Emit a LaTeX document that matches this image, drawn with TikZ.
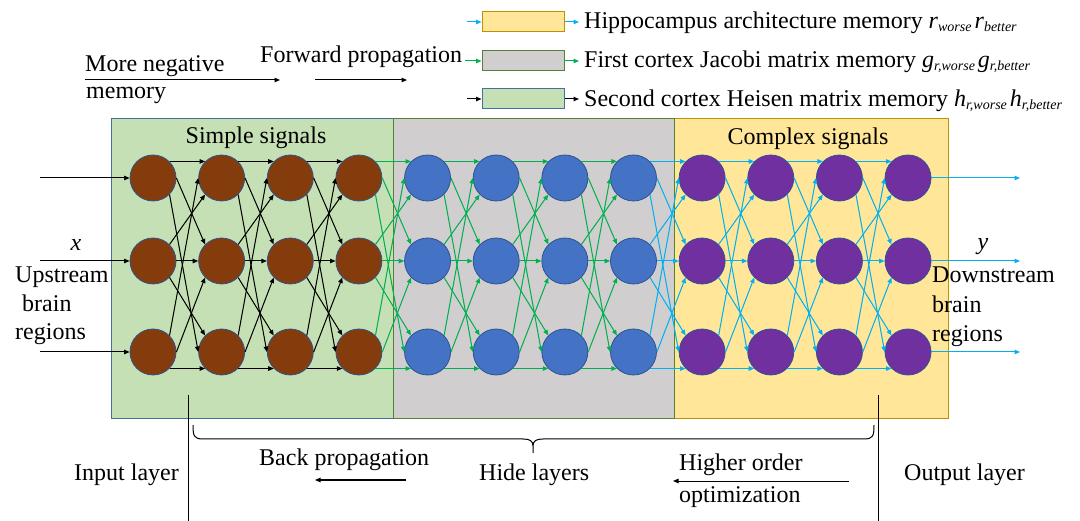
\documentclass[tikz,border=0pt]{standalone}
\usepackage{fontspec}
\setmainfont{Liberation Serif}
\usetikzlibrary{arrows.meta}
\definecolor{gfill}{HTML}{C5E0B4}
\definecolor{gyfill}{HTML}{D0CECE}
\definecolor{yfill}{HTML}{FFE699}
\definecolor{bluebd}{HTML}{41719C}
\definecolor{greenbd}{HTML}{548235}
\definecolor{goldbd}{HTML}{BF9000}
\definecolor{brownn}{HTML}{843C0C}
\definecolor{bluen}{HTML}{4472C4}
\definecolor{purplen}{HTML}{7030A0}
\definecolor{nodebd}{HTML}{2F528F}
\definecolor{lgreen}{HTML}{00B050}
\definecolor{lcyan}{HTML}{00B0F0}
\newcommand\lsub[1]{\raisebox{-2.5pt}{\fontsize{14}{14}\selectfont\itshape #1}}
\tikzset{
  txt/.style={font=\fontsize{24}{29}\selectfont, inner sep=0pt, anchor=base west},
  neuron/.style={circle, draw=nodebd, line width=0.8pt, minimum size=46pt, inner sep=0pt},
  conn/.style={line width=1pt, -{Triangle[length=5.5pt,width=4.5pt]}},
  legbox/.style={draw, line width=1pt, minimum width=82pt, minimum height=20pt, inner sep=0pt},
  plain/.style={line width=1pt}
}
\begin{document}
\begin{tikzpicture}[x=1pt,y=-1pt]
\useasboundingbox (0,0) rectangle (1080,521);
% region boxes
\node[draw=bluebd, fill=gfill, line width=1pt, minimum width=282pt, minimum height=300pt, inner sep=0pt] (boxg) at (252,269) {};
\node[draw=goldbd, fill=yfill, line width=1pt, minimum width=274pt, minimum height=300pt, inner sep=0pt] (boxy) at (811,269) {};
\node[draw=greenbd, fill=gyfill, line width=1pt, minimum width=281pt, minimum height=300pt, inner sep=0pt] (boxgy) at (533.5,269) {};
% neurons
\foreach \c in {1,...,12}{
  \pgfmathsetmacro\xx{153+68.64*(\c-1)}
  \ifnum\c<5 \def\nc{brownn}\else\ifnum\c<9 \def\nc{bluen}\else\def\nc{purplen}\fi\fi
  \node[neuron, fill=\nc] (n-\c-1) at (\xx,178) {};
  \node[neuron, fill=\nc] (n-\c-2) at (\xx,261) {};
  \node[neuron, fill=\nc] (n-\c-3) at (\xx,352) {};
}
% connections
\foreach \c/\col in {1/black,2/black,3/black,4/lgreen,5/lgreen,6/lgreen,7/lgreen,8/lcyan,9/lcyan,10/lcyan,11/lcyan}{
  \pgfmathtruncatemacro\d{\c+1}
  \foreach \s/\t/\a/\b in {1/1/45/135, 1/2/0/135, 1/3/-45/180, 2/1/45/-135, 2/2/0/180, 2/3/-45/135, 3/1/45/180, 3/2/0/-135, 3/3/-45/-135}{
    \draw[conn, draw=\col, fill=\col] (n-\c-\s.\a) -- (n-\d-\t.\b);
  }
}
% inputs and outputs
\coordinate (in1) at (40,178);
\coordinate (in2) at (40,261);
\coordinate (in3) at (40,352);
\coordinate (out1) at (1020,178);
\coordinate (out2) at (1020,261);
\coordinate (out3) at (1020,352);
\foreach \r in {1,2,3}{
  \draw[conn] (in\r) -- (n-1-\r.west);
  \draw[conn, draw=lcyan, fill=lcyan] (n-12-\r.east) -- (out\r);
}
% region titles
\node[txt, anchor=base] (tsimple) at (256,144) {Simple signals};
\node[txt, anchor=base] (tcomplex) at (808,145) {Complex signals};
% left/right labels
\node[txt, anchor=base] (tx) at (76,251) {\itshape x};
\node[txt] (tup) at (15,283) {Upstream};
\node[txt] (tbrainl) at (22,312) {brain};
\node[txt] (tregl) at (15,340) {regions};
\node[txt, anchor=base] (ty) at (983,250) {\itshape y};
\node[txt] (tdown) at (932,283) {Downstream};
\node[txt] (tbrainr) at (932,313) {brain};
\node[txt] (tregr) at (932,342) {regions};
% top left texts
\node[txt] (tmore) at (85,72) {More negative};
\node[txt] (tmem) at (86,99) {memory};
\node[txt] (tfwd) at (260,63) {Forward propagation};
\coordinate (a1s) at (85,80);
\coordinate (a1e) at (280,80);
\coordinate (a2s) at (315,80);
\coordinate (a2e) at (407,80);
\draw[conn] (a1s) -- (a1e);
\draw[conn] (a2s) -- (a2e);
% legend
\node[legbox, draw=goldbd, fill=yfill] (lg1) at (523,22) {};
\node[legbox, draw=greenbd, fill=gyfill] (lg2) at (523,61) {};
\node[legbox, draw=bluebd, fill=gfill] (lg3) at (523,99) {};
\coordinate (lg1a) at (467,22);
\coordinate (lg1b) at (579,22);
\coordinate (lg2a) at (465,61);
\coordinate (lg2b) at (579,61);
\coordinate (lg3a) at (467,99);
\coordinate (lg3b) at (579,99);
\draw[conn, draw=lcyan, fill=lcyan] (lg1a) -- (lg1.west);
\draw[conn, draw=lcyan, fill=lcyan] (lg1.east) -- (lg1b);
\draw[conn, draw=lgreen, fill=lgreen] (lg2a) -- (lg2.west);
\draw[conn, draw=lgreen, fill=lgreen] (lg2.east) -- (lg2b);
\draw[conn] (lg3a) -- (lg3.west);
\draw[conn] (lg3.east) -- (lg3b);
\node[txt] (lt1) at (584,29) {Hippocampus architecture memory \textit{r}\lsub{worse}\hspace{3pt}\textit{r}\lsub{better}};
\node[txt] (lt2) at (584,68) {First cortex Jacobi matrix memory \textit{g}\lsub{r,worse}\hspace{3pt}\textit{g}\lsub{r,better}};
\node[txt] (lt3) at (584,107) {Second cortex Heisen matrix memory \textit{h}\lsub{r,worse}\hspace{3pt}\textit{h}\lsub{r,better}};
% bottom
\coordinate (vl1) at (188,395);
\coordinate (vl2) at (188,521);
\coordinate (vr1) at (878,395);
\coordinate (vr2) at (878,521);
\draw[plain] (vl1) -- (vl2);
\draw[plain] (vr1) -- (vr2);
\draw[plain] (193,425) .. controls (193,436) and (194,439) .. (203,439) -- (523,439) .. controls (530,439) and (533,441) .. (533,446) -- (533,453)
  (533,446) .. controls (533,441) and (536,439) .. (543,439) -- (864,439) .. controls (873,439) and (874,436) .. (874,425);
\node[txt] (tin) at (74,480) {Input layer};
\node[txt] (tback) at (259,466) {Back propagation};
\node[txt] (thide) at (479,480) {Hide layers};
\node[txt] (thigh) at (679,471) {Higher order};
\node[txt] (topt) at (679,502) {optimization};
\node[txt] (tout) at (904,480) {Output layer};
\coordinate (b1s) at (406,480);
\coordinate (b1e) at (315,480);
\coordinate (b2s) at (849,481);
\coordinate (b2e) at (673,481);
\draw[conn] (b1s) -- (b1e);
\draw[conn] (b2s) -- (b2e);
\end{tikzpicture}
\end{document}
